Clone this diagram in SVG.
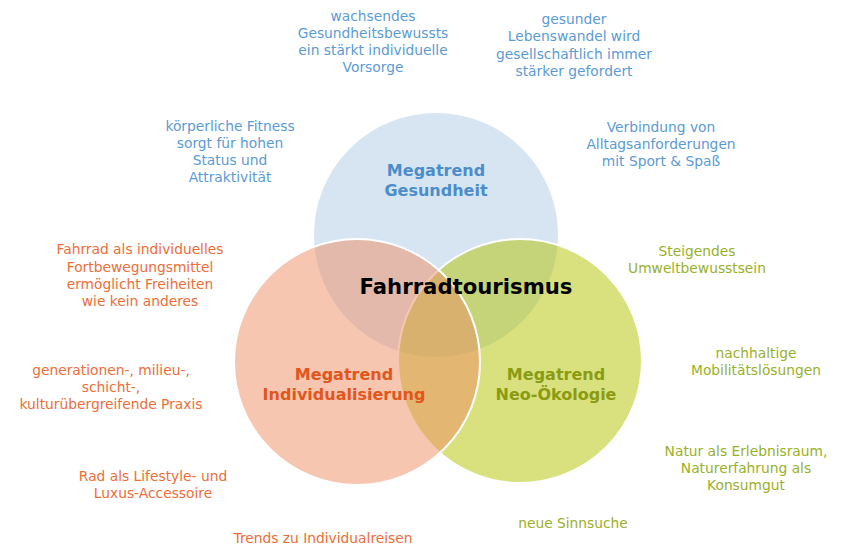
<svg xmlns="http://www.w3.org/2000/svg" width="844" height="545" viewBox="0 0 844 545">
<style>
text{font-family:"DejaVu Sans","Verdana",sans-serif;text-anchor:middle}
.s{font-size:13.8px}
.b{font-size:16px;font-weight:bold}
.bl{fill:#5b9bd5}.blb{fill:#4b8dca}
.or{fill:#ee6d38}.orb{fill:#e2561c}
.gr{fill:#99b02a}.grb{fill:#8a9b12}
.c{stroke:#ffffff;stroke-width:2}
</style>
<rect width="844" height="545" fill="#ffffff"/>
<g id="circle-gesundheit">
<circle class="c" cx="436" cy="235" r="123" fill="#d7e5f3"/>
</g>
<g id="circle-oekologie">
<circle class="c" cx="520" cy="361" r="122" fill="rgb(180,196,0)" fill-opacity="0.5"/>
</g>
<g id="circle-individualisierung">
<circle class="c" cx="357" cy="362" r="123" fill="rgb(237,141,99)" fill-opacity="0.5"/>
</g>
<g id="labels-megatrends">
<text class="b blb" x="436" y="176">Megatrend</text>
<text class="b blb" x="436" y="196">Gesundheit</text>
<text class="b orb" x="344" y="380">Megatrend</text>
<text class="b orb" x="344" y="400">Individualisierung</text>
<text class="b grb" x="556" y="380">Megatrend</text>
<text class="b grb" x="556" y="400">Neo-Ökologie</text>
</g>
<g id="center">
<text x="466" y="294" style="font-size:21.2px;font-weight:bold" fill="#000000">Fahrradtourismus</text>
</g>
<g id="notes-gesundheit">
<text class="s bl" x="373" y="21">wachsendes</text>
<text class="s bl" x="373" y="38">Gesundheitsbewussts</text>
<text class="s bl" x="373" y="55">ein stärkt individuelle</text>
<text class="s bl" x="373" y="72">Vorsorge</text>
<text class="s bl" x="574" y="24">gesunder</text>
<text class="s bl" x="574" y="41">Lebenswandel wird</text>
<text class="s bl" x="574" y="59">gesellschaftlich immer</text>
<text class="s bl" x="574" y="76">stärker gefordert</text>
<text class="s bl" x="230" y="131">körperliche Fitness</text>
<text class="s bl" x="230" y="148">sorgt für hohen</text>
<text class="s bl" x="230" y="165">Status und</text>
<text class="s bl" x="230" y="182">Attraktivität</text>
<text class="s bl" x="661" y="132">Verbindung von</text>
<text class="s bl" x="661" y="149">Alltagsanforderungen</text>
<text class="s bl" x="661" y="166">mit Sport &amp; Spaß</text>
</g>
<g id="notes-individualisierung">
<text class="s or" x="140" y="254">Fahrrad als individuelles</text>
<text class="s or" x="140" y="272">Fortbewegungsmittel</text>
<text class="s or" x="140" y="289">ermöglicht Freiheiten</text>
<text class="s or" x="140" y="306">wie kein anderes</text>
<text class="s or" x="111" y="375">generationen-, milieu-,</text>
<text class="s or" x="111" y="392">schicht-,</text>
<text class="s or" x="111" y="409">kulturübergreifende Praxis</text>
<text class="s or" x="153" y="481">Rad als Lifestyle- und</text>
<text class="s or" x="153" y="498">Luxus-Accessoire</text>
<text class="s or" x="323" y="543">Trends zu Individualreisen</text>
</g>
<g id="notes-oekologie">
<text class="s gr" x="697" y="256">Steigendes</text>
<text class="s gr" x="697" y="273">Umweltbewusstsein</text>
<text class="s gr" x="756" y="358">nachhaltige</text>
<text class="s gr" x="756" y="375">Mobilitätslösungen</text>
<text class="s gr" x="746" y="456">Natur als Erlebnisraum,</text>
<text class="s gr" x="746" y="473">Naturerfahrung als</text>
<text class="s gr" x="746" y="490">Konsumgut</text>
<text class="s gr" x="573" y="528">neue Sinnsuche</text>
</g>
<g id="connectors"></g>
</svg>
